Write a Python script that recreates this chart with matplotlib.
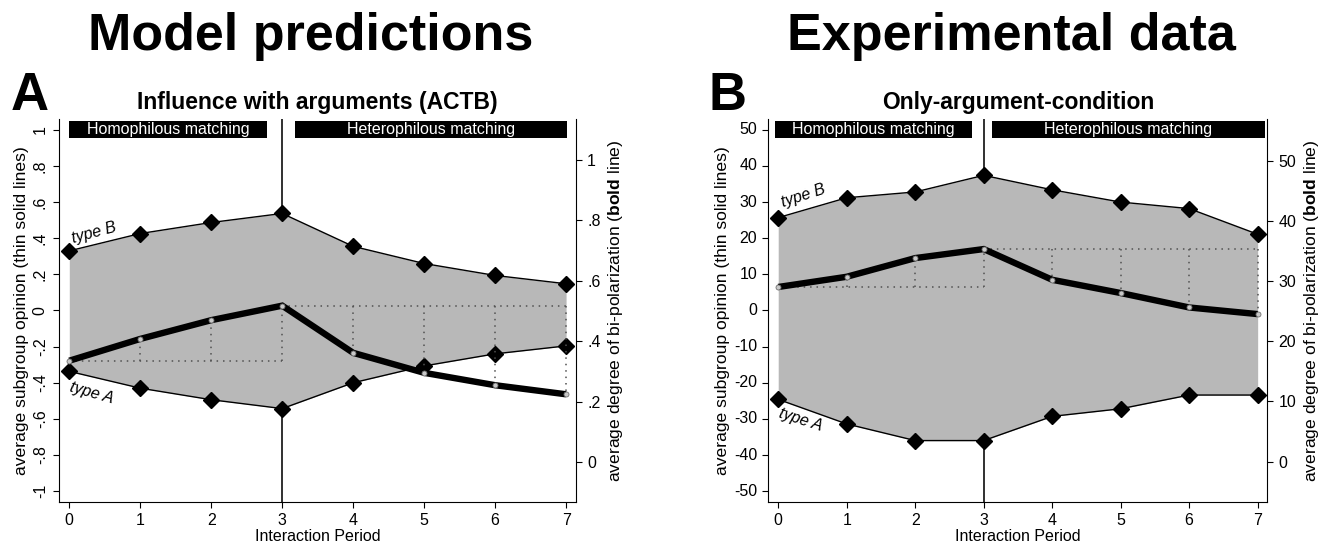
import matplotlib
matplotlib.use("Agg")
import matplotlib.pyplot as plt
from matplotlib.patches import Rectangle

plt.rcParams['font.family'] = ['Liberation Sans', 'DejaVu Sans']
plt.rcParams['mathtext.fontset'] = 'custom'
plt.rcParams['mathtext.rm'] = 'Liberation Sans'
plt.rcParams['mathtext.bf'] = 'Liberation Sans:bold'
plt.rcParams['mathtext.it'] = 'Liberation Sans:italic'

# ---------------- data ----------------
periods = [0, 1, 2, 3, 4, 5, 6, 7]

model_typeB = [0.33, 0.426, 0.487, 0.537, 0.355, 0.26, 0.194, 0.148]
model_typeA = [-0.337, -0.43, -0.494, -0.543, -0.40, -0.307, -0.24, -0.196]
model_bipol = [0.335, 0.407, 0.469, 0.517, 0.361, 0.295, 0.254, 0.224]

exp_typeB = [25.7, 31.2, 32.8, 37.4, 33.4, 30.0, 28.2, 21.1]
exp_typeA = [-24.6, -31.4, -36.0, -36.0, -29.3, -27.2, -23.4, -23.4]
exp_bipol = [29.0, 30.7, 33.8, 35.3, 30.2, 28.0, 25.6, 24.5]

model_left_ticks = [-1, -0.8, -0.6, -0.4, -0.2, 0, 0.2, 0.4, 0.6, 0.8, 1]
model_right_ticks = [0, 0.2, 0.4, 0.6, 0.8, 1]
exp_left_ticks = [-50, -40, -30, -20, -10, 0, 10, 20, 30, 40, 50]
exp_right_ticks = [0, 10, 20, 30, 40, 50]

phase_labels = ["Homophilous matching", "Heterophilous matching"]


def stata_fmt(v):
    if abs(v - round(v)) < 1e-9:
        return str(int(round(v)))
    s = ("%g" % v)
    s = s.replace("0.", ".")
    return s


FILL = '#b8b8b8'
TICKFS = 11.5
TXTFS = 11.5
VLABFS = 12.6


def panel(rect, typeB, typeA, bipol, lticks, rticks, ylim_l, ylim_r,
          rot_left, subtitle, bars, typeB_pos, typeA_pos, bar_y, lpad):
    ax = fig.add_axes(rect)
    ax.set_xlim(-0.145, 7.14)
    ax.set_ylim(*ylim_l)
    ax.set_zorder(1)
    ax.patch.set_visible(False)
    # vertical separator
    ax.axvline(3, color='#202020', lw=1.3, zorder=0.5)
    ax.fill_between(periods, typeA, typeB, color=FILL, lw=0, zorder=1)
    for ser in (typeB, typeA):
        ax.plot(periods, ser, color='black', lw=1.0, zorder=3)
        ax.plot(periods, ser, ls='none', marker='D', ms=8, color='black', zorder=4)
    ax.set_xticks(periods)
    ax.set_yticks(lticks)
    ax.set_yticklabels([stata_fmt(v) for v in lticks],
                       rotation=90 if rot_left else 0,
                       va='center', ha='center' if rot_left else 'right')
    ax.tick_params(axis='both', direction='out', length=4.5, width=0.8,
                   labelsize=TICKFS, colors='black')
    if rot_left:
        ax.tick_params(axis='y', pad=9)
    ax.set_xlabel("Interaction Period", fontsize=TXTFS, labelpad=1)
    ax.set_ylabel("average subgroup opinion (thin solid lines)", fontsize=VLABFS,
                  labelpad=lpad)
    for s in ('top', 'right'):
        ax.spines[s].set_visible(False)
    for s in ('left', 'bottom'):
        ax.spines[s].set_linewidth(0.8)

    # phase bars
    for (x0, x1), lab in zip(bars, phase_labels):
        ax.add_patch(Rectangle((x0, bar_y[0]), x1 - x0, bar_y[1] - bar_y[0],
                               facecolor='black', edgecolor='none',
                               zorder=5, clip_on=False))
        ax.text((x0 + x1) / 2, (bar_y[0] + bar_y[1]) / 2, lab, color='white',
                ha='center', va='center', fontsize=TXTFS, zorder=6)

    ax.text(*typeB_pos[:2], "type B", rotation=typeB_pos[2], ha='center',
            va='center', fontsize=TXTFS, style='italic', zorder=6,
            rotation_mode='anchor')
    ax.text(*typeA_pos[:2], "type A", rotation=typeA_pos[2], ha='center',
            va='center', fontsize=TXTFS, style='italic', zorder=6,
            rotation_mode='anchor')

    # right axis: bi-polarization
    tw = ax.twinx()
    tw.set_zorder(2)
    tw.set_xlim(-0.145, 7.14)
    tw.set_ylim(*ylim_r)
    base0 = bipol[0]
    base3 = bipol[3]
    dot = dict(color='#505050', lw=1.1, ls=(0, (1, 3.2)), zorder=2)
    tw.plot(periods[0:4], [base0] * 4, **dot)
    for i in (1, 2, 3):
        tw.plot([periods[i]] * 2, [base0, bipol[i]], **dot)
    tw.plot(periods[3:], [base3] * 5, **dot)
    for i in (4, 5, 6, 7):
        tw.plot([periods[i]] * 2, [base3, bipol[i]], **dot)
    tw.plot(periods, bipol, color='black', lw=4.6, zorder=3,
            solid_capstyle='butt', solid_joinstyle='miter')
    tw.plot(periods, bipol, ls='none', marker='o', ms=3.6, mfc='#c8c8c8',
            mec='#707070', mew=0.6, zorder=4)
    tw.set_yticks(rticks)
    tw.set_yticklabels([stata_fmt(v) for v in rticks])
    tw.tick_params(axis='y', direction='out', length=4.5, width=0.8,
                   labelsize=TICKFS, colors='black')
    tw.set_ylabel(r"average degree of bi-polarization ($\mathbf{bold}$ line)",
                  fontsize=VLABFS, labelpad=4)
    for s in ('top', 'left', 'bottom'):
        tw.spines[s].set_visible(False)
    tw.spines['right'].set_linewidth(0.8)
    ax.set_title(subtitle, fontsize=16.5, fontweight='bold', pad=7)
    return ax, tw


fig = plt.figure(figsize=(13.26, 5.45), dpi=100)

panel([0.0445, 0.0789, 0.3899, 0.7028], model_typeB, model_typeA, model_bipol,
      model_left_ticks, model_right_ticks, (-1.06, 1.06), (-0.132, 1.134),
      True, "Influence with arguments (ACTB)",
      [(-0.003, 2.79), (3.18, 7.02)], (0.35, 0.43, 15), (0.32, -0.455, -16),
      (0.955, 1.05), 3)

panel([0.5794, 0.0789, 0.3763, 0.7028], exp_typeB, exp_typeA, exp_bipol,
      exp_left_ticks, exp_right_ticks, (-53, 53), (-6.7, 56.9),
      False, "Only-argument-condition",
      [(-0.04, 2.83), (3.12, 7.1)], (0.37, 31.8, 18), (0.33, -30.2, -18),
      (47.7, 52.4), 3)

fig.text(0.2345, 0.908, "Model predictions", fontsize=37.5, fontweight='bold',
         ha='center', va='baseline')
fig.text(0.7624, 0.908, "Experimental data", fontsize=37.5, fontweight='bold',
         ha='center', va='baseline')
fig.text(0.0083, 0.798, "A", fontsize=38, fontweight='bold', ha='left',
         va='baseline')
fig.text(0.534, 0.798, "B", fontsize=38, fontweight='bold', ha='left',
         va='baseline')

fig.savefig("out.png", dpi=100)
